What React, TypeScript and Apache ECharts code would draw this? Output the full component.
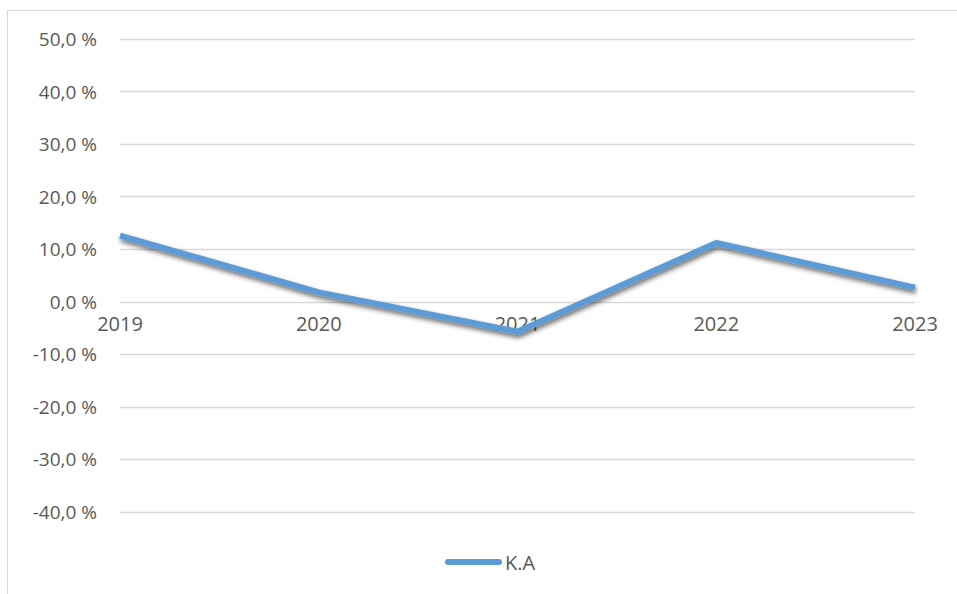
import React, { useEffect, useRef } from "react";
import * as echarts from "echarts";

const years = ["2019", "2020", "2021", "2022", "2023"];
const kaValues = [12.6, 1.8, -5.7, 11.2, 2.7];
const seriesName = "K.A";
const yMin = -40;
const yMax = 50;
const yStep = 10;

export default function App() {
  const ref = useRef<HTMLDivElement>(null);
  useEffect(() => {
    document.body.style.margin = "0";
    const chart = echarts.init(ref.current!, null, { renderer: "svg" });
    chart.setOption({
      animation: false,
      backgroundColor: "#ffffff",
      textStyle: { fontFamily: "Open Sans" },
      graphic: [
        {
          type: "rect",
          shape: { x: 7.5, y: 10.5, width: 1000, height: 700 },
          style: { fill: "none", stroke: "#d9d9d9", lineWidth: 1 },
          silent: true,
        },
      ],
      grid: { left: 120, right: 42, top: 39, bottom: 82 },
      legend: {
        bottom: 17,
        left: 440,
        itemWidth: 57,
        itemHeight: 6,
        itemGap: 10,
        icon: "path://M3,0 H54 A3,3 0 0 1 54,6 H3 A3,3 0 0 1 3,0 Z",
        textStyle: { color: "#595959", fontSize: 20, fontFamily: "Open Sans", padding: [0, 0, 0, -2] },
        data: [seriesName],
      },
      xAxis: {
        type: "category",
        data: years,
        boundaryGap: false,
        offset: -210,
        axisLine: { show: false, onZero: false },
        axisTick: { show: false },
        axisLabel: { color: "#595959", fontSize: 20, margin: 11 },
        splitLine: { show: false },
      },
      yAxis: {
        type: "value",
        min: yMin,
        max: yMax,
        interval: yStep,
        axisLine: { show: false },
        axisTick: { show: false },
        axisLabel: {
          color: "#595959",
          fontSize: 19,
          margin: 23,
          formatter: (v: number) => v.toFixed(1).replace(".", ",") + " %",
        },
        splitLine: { show: true, lineStyle: { color: "#d9d9d9", width: 1.3 } },
      },
      series: [
        {
          name: seriesName,
          type: "line",
          data: kaValues,
          symbol: "none",
          color: "#5B9BD5",
          lineStyle: {
            color: "#5B9BD5",
            width: 6,
            shadowColor: "rgba(0,0,0,0.6)",
            shadowBlur: 5,
            shadowOffsetX: 1,
            shadowOffsetY: 3,
          },
        },
      ],
    });
    return () => chart.dispose();
  }, []);
  return (
    <div
      ref={ref}
      style={{ position: "fixed", left: 0, top: 0, width: 957, height: 594 }}
    />
  );
}
